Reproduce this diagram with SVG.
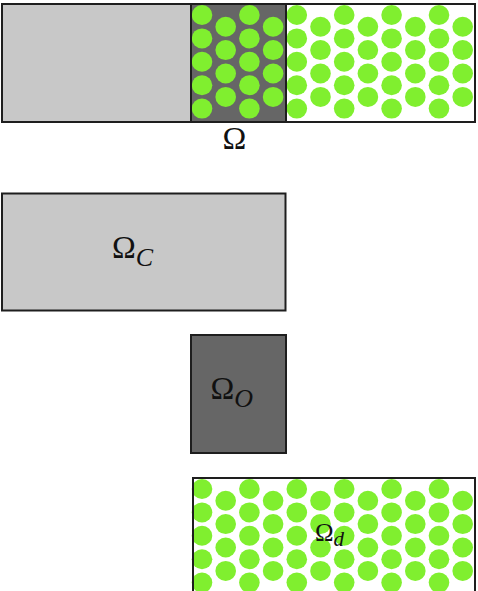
<svg xmlns="http://www.w3.org/2000/svg" xmlns:xlink="http://www.w3.org/1999/xlink" width="478" height="591" viewBox="0 0 478 591">
<style>
.light{fill:#c8c8c8}
.dark{fill:#666666}
.white{fill:#ffffff}
.frame{fill:none;stroke:#1e1e1e;stroke-width:2}
.div{stroke:#1e1e1e;stroke-width:2}
.dot{fill:#80ef2f}
.lbl{font-family:"Liberation Serif","Times New Roman",serif;fill:#111}
.sub{font-style:italic}
</style>
<defs>
<g id="dots">
<ellipse class="dot" cx="202" cy="15" rx="10.3" ry="10"/><ellipse class="dot" cx="202" cy="38.4" rx="10.3" ry="10"/><ellipse class="dot" cx="202" cy="61.8" rx="10.3" ry="10"/><ellipse class="dot" cx="202" cy="85.2" rx="10.3" ry="10"/><ellipse class="dot" cx="202" cy="108.6" rx="10.3" ry="10"/>
<ellipse class="dot" cx="225.7" cy="26.7" rx="10.3" ry="10"/><ellipse class="dot" cx="225.7" cy="50.1" rx="10.3" ry="10"/><ellipse class="dot" cx="225.7" cy="73.5" rx="10.3" ry="10"/><ellipse class="dot" cx="225.7" cy="96.9" rx="10.3" ry="10"/>
<ellipse class="dot" cx="249.4" cy="15" rx="10.3" ry="10"/><ellipse class="dot" cx="249.4" cy="38.4" rx="10.3" ry="10"/><ellipse class="dot" cx="249.4" cy="61.8" rx="10.3" ry="10"/><ellipse class="dot" cx="249.4" cy="85.2" rx="10.3" ry="10"/><ellipse class="dot" cx="249.4" cy="108.6" rx="10.3" ry="10"/>
<ellipse class="dot" cx="273.1" cy="26.7" rx="10.3" ry="10"/><ellipse class="dot" cx="273.1" cy="50.1" rx="10.3" ry="10"/><ellipse class="dot" cx="273.1" cy="73.5" rx="10.3" ry="10"/><ellipse class="dot" cx="273.1" cy="96.9" rx="10.3" ry="10"/>
<ellipse class="dot" cx="296.8" cy="15" rx="10.3" ry="10"/><ellipse class="dot" cx="296.8" cy="38.4" rx="10.3" ry="10"/><ellipse class="dot" cx="296.8" cy="61.8" rx="10.3" ry="10"/><ellipse class="dot" cx="296.8" cy="85.2" rx="10.3" ry="10"/><ellipse class="dot" cx="296.8" cy="108.6" rx="10.3" ry="10"/>
<ellipse class="dot" cx="320.5" cy="26.7" rx="10.3" ry="10"/><ellipse class="dot" cx="320.5" cy="50.1" rx="10.3" ry="10"/><ellipse class="dot" cx="320.5" cy="73.5" rx="10.3" ry="10"/><ellipse class="dot" cx="320.5" cy="96.9" rx="10.3" ry="10"/>
<ellipse class="dot" cx="344.2" cy="15" rx="10.3" ry="10"/><ellipse class="dot" cx="344.2" cy="38.4" rx="10.3" ry="10"/><ellipse class="dot" cx="344.2" cy="61.8" rx="10.3" ry="10"/><ellipse class="dot" cx="344.2" cy="85.2" rx="10.3" ry="10"/><ellipse class="dot" cx="344.2" cy="108.6" rx="10.3" ry="10"/>
<ellipse class="dot" cx="367.9" cy="26.7" rx="10.3" ry="10"/><ellipse class="dot" cx="367.9" cy="50.1" rx="10.3" ry="10"/><ellipse class="dot" cx="367.9" cy="73.5" rx="10.3" ry="10"/><ellipse class="dot" cx="367.9" cy="96.9" rx="10.3" ry="10"/>
<ellipse class="dot" cx="391.6" cy="15" rx="10.3" ry="10"/><ellipse class="dot" cx="391.6" cy="38.4" rx="10.3" ry="10"/><ellipse class="dot" cx="391.6" cy="61.8" rx="10.3" ry="10"/><ellipse class="dot" cx="391.6" cy="85.2" rx="10.3" ry="10"/><ellipse class="dot" cx="391.6" cy="108.6" rx="10.3" ry="10"/>
<ellipse class="dot" cx="415.3" cy="26.7" rx="10.3" ry="10"/><ellipse class="dot" cx="415.3" cy="50.1" rx="10.3" ry="10"/><ellipse class="dot" cx="415.3" cy="73.5" rx="10.3" ry="10"/><ellipse class="dot" cx="415.3" cy="96.9" rx="10.3" ry="10"/>
<ellipse class="dot" cx="439" cy="15" rx="10.3" ry="10"/><ellipse class="dot" cx="439" cy="38.4" rx="10.3" ry="10"/><ellipse class="dot" cx="439" cy="61.8" rx="10.3" ry="10"/><ellipse class="dot" cx="439" cy="85.2" rx="10.3" ry="10"/><ellipse class="dot" cx="439" cy="108.6" rx="10.3" ry="10"/>
<ellipse class="dot" cx="462.7" cy="26.7" rx="10.3" ry="10"/><ellipse class="dot" cx="462.7" cy="50.1" rx="10.3" ry="10"/><ellipse class="dot" cx="462.7" cy="73.5" rx="10.3" ry="10"/><ellipse class="dot" cx="462.7" cy="96.9" rx="10.3" ry="10"/>
</g>
</defs>
<g id="omega">
<rect class="light" x="2" y="4" width="189" height="118"/>
<rect class="dark" x="191" y="4" width="95" height="118"/>
<rect class="white" x="286" y="4" width="189" height="118"/>
<use xlink:href="#dots" href="#dots"/>
<rect class="frame" x="2" y="4" width="473" height="118"/>
<line class="div" x1="191" y1="4" x2="191" y2="122"/>
<line class="div" x1="286" y1="4" x2="286" y2="122"/>
<text class="lbl" x="222.5" y="149" font-size="32">Ω</text>
</g>
<g id="omega-c">
<rect class="light" x="2" y="193.5" width="283.5" height="117"/>
<rect class="frame" x="2" y="193.5" width="283.5" height="117"/>
<text class="lbl" x="112" y="257.5" font-size="32">Ω<tspan class="sub" font-size="26" dy="8">C</tspan></text>
</g>
<g id="omega-o">
<rect class="dark" x="191" y="335" width="95" height="118"/>
<rect class="frame" x="191" y="335" width="95" height="118"/>
<text class="lbl" x="210.5" y="399" font-size="32">Ω<tspan class="sub" font-size="26" dy="8">O</tspan></text>
</g>
<g id="omega-d">
<rect class="white" x="193" y="478" width="282" height="130"/>
<use xlink:href="#dots" href="#dots" transform="translate(0,474)"/>
<rect class="frame" x="193" y="478" width="282" height="130"/>
<text class="lbl" x="315" y="541" font-size="25">Ω<tspan class="sub" font-size="21" dy="5">d</tspan></text>
</g>
</svg>
